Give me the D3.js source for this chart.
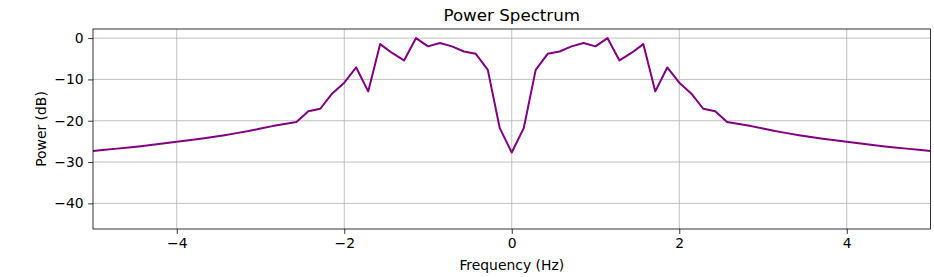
<!DOCTYPE html>
<html>
<head>
<meta charset="utf-8">
<script src="https://cdn.jsdelivr.net/npm/d3@7"></script>
<style>
  html, body { margin: 0; padding: 0; background: #fff; }
  svg { display: block; }
  text { font-family: "DejaVu Sans", sans-serif; fill: #000; }
</style>
</head>
<body>
<svg id="chart" width="934" height="277"></svg>
<script>
// ---- data ----
const frequency = [
  -5, -4.857, -4.714, -4.571, -4.429, -4.286, -4.143, -4, -3.857, -3.714,
  -3.571, -3.429, -3.286, -3.143, -3, -2.857, -2.714, -2.571, -2.429, -2.286,
  -2.143, -2, -1.857, -1.714, -1.571, -1.429, -1.286, -1.143, -1, -0.857,
  -0.714, -0.571, -0.429, -0.286, -0.143, 0,
  0.143, 0.286, 0.429, 0.571, 0.714, 0.857, 1, 1.143, 1.286, 1.429,
  1.571, 1.714, 1.857, 2, 2.143, 2.286, 2.429, 2.571, 2.714, 2.857,
  3, 3.143, 3.286, 3.429, 3.571, 3.714, 3.857, 4, 4.143, 4.286,
  4.429, 4.571, 4.714, 4.857, 5
];
const powerDb = [
  -27.3, -27.05, -26.75, -26.45, -26.15, -25.8, -25.45, -25.1, -24.75, -24.35,
  -23.95, -23.5, -23.0, -22.5, -21.9, -21.3, -20.8, -20.3, -17.7, -17.1,
  -13.4, -10.8, -7.1, -12.9, -1.45, -3.6, -5.4, 0.0, -2.0, -1.2,
  -2.0, -3.25, -3.8, -7.7, -21.8, -27.7,
  -21.8, -7.7, -3.8, -3.25, -2.0, -1.2, -2.0, 0.0, -5.4, -3.6,
  -1.45, -12.9, -7.1, -10.8, -13.4, -17.1, -17.7, -20.3, -20.8, -21.3,
  -21.9, -22.5, -23.0, -23.5, -23.95, -24.35, -24.75, -25.1, -25.45, -25.8,
  -26.15, -26.45, -26.75, -27.05, -27.3
];
const xTicks = [-4, -2, 0, 2, 4];
const yTicks = [0, -10, -20, -30, -40];
const xDomain = [-5, 5];
const yDomain = [-46.2, 2.2];
const titleText = "Power Spectrum";
const xLabelText = "Frequency (Hz)";
const yLabelText = "Power (dB)";

// ---- layout ----
const svg = d3.select("#chart");
const m = { left: 93, right: 930.5, top: 29, bottom: 229 };
const x = d3.scaleLinear().domain(xDomain).range([m.left, m.right]);
const y = d3.scaleLinear().domain(yDomain).range([m.bottom, m.top]);

const gridColor = "#b0b0b0";

// grid
svg.append("g").selectAll("line").data(xTicks).join("line")
  .attr("x1", d => x(d)).attr("x2", d => x(d))
  .attr("y1", m.top).attr("y2", m.bottom)
  .attr("stroke", gridColor).attr("stroke-width", 0.8);
svg.append("g").selectAll("line").data(yTicks).join("line")
  .attr("x1", m.left).attr("x2", m.right)
  .attr("y1", d => y(d)).attr("y2", d => y(d))
  .attr("stroke", gridColor).attr("stroke-width", 0.8);

// line
const pts = frequency.map((f, i) => [f, powerDb[i]]);
svg.append("clipPath").attr("id", "clip").append("rect")
  .attr("x", m.left).attr("y", m.top)
  .attr("width", m.right - m.left).attr("height", m.bottom - m.top);
svg.append("path")
  .datum(pts)
  .attr("clip-path", "url(#clip)")
  .attr("fill", "none")
  .attr("stroke", "#800080")
  .attr("stroke-width", 2)
  .attr("stroke-linejoin", "round")
  .attr("d", d3.line().x(d => x(d[0])).y(d => y(d[1])));

// axes
const fmt = d => (d < 0 ? "\u2212" + Math.abs(d) : String(d));
const xAxis = d3.axisBottom(x).tickValues(xTicks).tickSize(4.9).tickPadding(4.5).tickFormat(fmt);
const yAxis = d3.axisLeft(y).tickValues(yTicks).tickSize(4.9).tickPadding(4.5).tickFormat(fmt);

const gx = svg.append("g").attr("transform", `translate(0,${m.bottom})`).call(xAxis);
const gy = svg.append("g").attr("transform", `translate(${m.left},0)`).call(yAxis);
[gx, gy].forEach(g => {
  g.select(".domain").remove();
  g.selectAll(".tick line").attr("stroke", "#000").attr("stroke-width", 0.8);
  g.selectAll(".tick text").attr("font-family", "DejaVu Sans, sans-serif")
    .attr("font-size", 13.9).attr("fill", "#000");
});

// frame
svg.append("rect")
  .attr("x", m.left).attr("y", m.top)
  .attr("width", m.right - m.left).attr("height", m.bottom - m.top)
  .attr("fill", "none").attr("stroke", "#000").attr("stroke-width", 0.8);

// labels
svg.append("text")
  .attr("x", (m.left + m.right) / 2).attr("y", 20.5)
  .attr("text-anchor", "middle").attr("font-size", 16.7)
  .text(titleText);
svg.append("text")
  .attr("x", (m.left + m.right) / 2).attr("y", 270)
  .attr("text-anchor", "middle").attr("font-size", 13.9)
  .text(xLabelText);
svg.append("text")
  .attr("transform", `translate(45.5,${(m.top + m.bottom) / 2}) rotate(-90)`)
  .attr("text-anchor", "middle").attr("font-size", 13.9)
  .text(yLabelText);
</script>
</body>
</html>
